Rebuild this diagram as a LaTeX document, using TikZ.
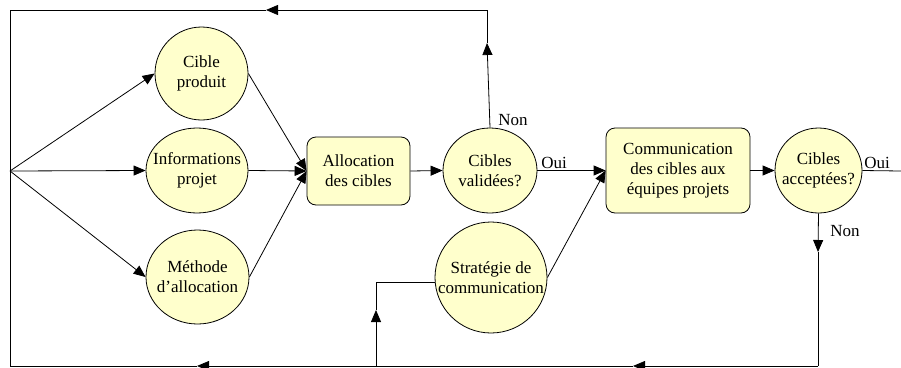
\documentclass[tikz,border=0pt]{standalone}
\usepackage{fontspec}
\setmainfont{Liberation Serif}
\usetikzlibrary{shapes.geometric,arrows.meta}
\definecolor{paleyellow}{RGB}{255,255,204}
\begin{document}
\begin{tikzpicture}[x=1pt,y=-1pt,
  line width=0.8pt,
  txt/.style={font=\fontsize{17}{20}\selectfont,align=center,inner sep=0pt},
  bubble/.style={ellipse,draw,fill=paleyellow,inner sep=0pt},
  task/.style={rectangle,draw,fill=paleyellow,rounded corners=9pt,inner sep=0pt},
  arr/.style={-{Triangle[length=12pt,width=10pt]}},
  lbl/.style={font=\fontsize{17}{20}\selectfont,inner sep=0pt}]
\useasboundingbox (0,0) rectangle (901,367);

% inputs and process steps (outlines sized explicitly, text set on top)
\node[bubble,minimum width=93pt,minimum height=93pt] (cp) at (201.5,73.5) {};
\node[txt] (cpT) at (cp) {Cible\\produit};
\node[bubble,minimum width=102pt,minimum height=85pt] (ip) at (197,170.5) {};
\node[txt] (ipT) at (ip) {Informations\\projet};
\node[bubble,minimum width=103pt,minimum height=94pt] (ma) at (197.5,277) {};
\node[txt] (maT) at (ma) {Méthode\\d’allocation};
\node[task,minimum width=103pt,minimum height=68pt] (al) at (358.5,171) {};
\node[txt] (alT) at (al) {Allocation\\des cibles};
\node[bubble,minimum width=94pt,minimum height=85pt] (cv) at (490,170.5) {};
\node[txt] (cvT) at (cv) {Cibles\\validées?};
\node[bubble,minimum width=112pt,minimum height=111pt] (sc) at (491,277.5) {};
\node[txt] (scT) at (sc) {Stratégie de\\communication};
\node[task,minimum width=144pt,minimum height=85pt] (cm) at (678,170.5) {};
\node[txt] (cmT) at (cm) {Communication\\des cibles aux\\équipes projets};
\node[bubble,minimum width=87pt,minimum height=85pt] (ca) at (818.5,170.5) {};
\node[txt] (caT) at (ca) {Cibles\\acceptées?};

% routing points
\coordinate (fan) at (10,171);
\coordinate (tl) at (10,10);
\coordinate (tr) at (487,10);
\coordinate (upA) at (487,43);
\coordinate (topA) at (266,10);
\coordinate (dnA) at (818,252);
\coordinate (br) at (818,366);
\coordinate (botA) at (633,366);
\coordinate (botB) at (197,366);
\coordinate (bl) at (10,366);
\coordinate (bj) at (376,366);
\coordinate (bjA) at (376,310);
\coordinate (out) at (901,171);

% fan-out of inputs
\draw[arr] (fan) -- (cp.west);
\draw[arr] (fan) -- (ip.west);
\draw[arr] (fan) -- (ma.west);
\draw[arr] (cp.east) -- (al.west);
\draw[arr] (ip.east) -- (al.west);
\draw[arr] (ma.east) -- (al.west);
\draw[arr] (al.east) -- (cv.west);

% validation
\draw[arr] (cv.east) -- (cm.west);
\draw[arr] (sc.east) -- (cm.west);
\draw[arr] (cm.east) -- (ca.west);
\draw (ca.east) -- (out);

% rejection loop from validation
\draw[arr] (cv.north) -- (upA);
\draw (upA) -- (tr);
\draw[arr] (tr) -- (topA);
\draw (topA) -- (tl) -- (fan);

% rejection loop from acceptance
\draw[arr] (ca.south) -- (dnA);
\draw (dnA) -- (br);
\draw[arr] (br) -- (botA);
\draw[arr] (botA) -- (botB);
\draw (botB) -- (bl) -- (fan);
\draw[arr] (bj) -- (bjA);
\draw (bjA) |- (sc.185);

% branch labels
\node[lbl] (nonA) at (513,120) {Non};
\node[lbl] (ouiA) at (554,163) {Oui};
\node[lbl] (ouiB) at (877,163) {Oui};
\node[lbl] (nonB) at (845,231) {Non};
\end{tikzpicture}
\end{document}
